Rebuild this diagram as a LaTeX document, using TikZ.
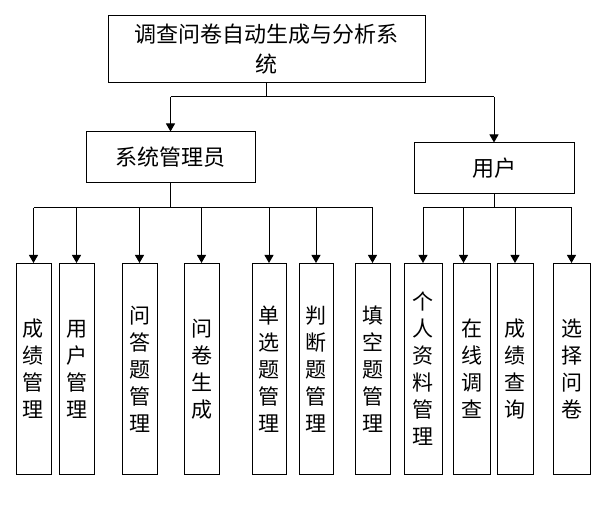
\documentclass[tikz,border=0pt]{standalone}
\usepackage{fontspec}
\newfontfamily\cjk{Noto Sans CJK SC}
\usetikzlibrary{arrows.meta}
\tikzset{
  box/.style={draw=black, line width=1pt, rectangle, inner sep=0pt, font=\cjk\fontsize{22}{30}\selectfont, align=center},
  leaf/.style={draw=black, line width=1pt, rectangle, inner sep=0pt, anchor=north, minimum height=211pt, font=\cjk\fontsize{21}{27}\selectfont, align=center},
  conn/.style={line width=1pt},
  arr/.style={line width=1pt, -{Triangle[length=8pt,width=9pt]}}
}
\begin{document}
\begin{tikzpicture}[x=1pt,y=-1pt]
\path[use as bounding box] (0,0) rectangle (616,510);
\node[box, minimum width=317pt, minimum height=67pt] (top) at (266.5,49.5) {调查问卷自动生成与分析系\\统};
\node[box, minimum width=169pt, minimum height=51pt] (admin) at (170.5,157.5) {系统管理员};
\node[box, minimum width=160pt, minimum height=51pt] (user) at (494,168.5) {用户};
\node[leaf, minimum width=35pt] (l1) at (33.5,263) {成\\绩\\管\\理};
\node[leaf, minimum width=35pt] (l2) at (76.5,263) {用\\户\\管\\理};
\node[leaf, minimum width=35pt] (l3) at (139.5,263) {问\\答\\题\\管\\理};
\node[leaf, minimum width=35pt] (l4) at (201.5,263) {问\\卷\\生\\成};
\node[leaf, minimum width=34pt] (l5) at (269,263) {单\\选\\题\\管\\理};
\node[leaf, minimum width=34pt] (l6) at (316,263) {判\\断\\题\\管\\理};
\node[leaf, minimum width=35pt] (l7) at (372.5,263) {填\\空\\题\\管\\理};
\node[leaf, minimum width=38pt] (l8) at (423,263) {个\\人\\资\\料\\管\\理};
\node[leaf, minimum width=37pt] (l9) at (471.5,263) {在\\线\\调\\查};
\node[leaf, minimum width=36pt] (l10) at (515,263) {成\\绩\\查\\询};
\node[leaf, minimum width=37pt] (l11) at (571.5,263) {选\\择\\问\\卷};
% top level
\coordinate (b1) at (266.5,97);
\draw[conn] (top.south) -- (b1);
\draw[conn] (admin.north |- b1) -- (user.north |- b1);
\draw[arr] (admin.north |- b1) -- (admin.north);
\draw[arr] (user.north |- b1) -- (user.north);
% admin
\coordinate (b2) at (170.5,208);
\draw[conn] (admin.south) -- (b2);
\draw[conn] (l1.north |- b2) -- (l7.north |- b2);
\foreach \n in {l1,l2,l3,l4,l5,l6,l7}
  \draw[arr] (\n.north |- b2) -- (\n.north);
% user
\coordinate (b3) at (494,208);
\draw[conn] (user.south) -- (b3);
\draw[conn] (l8.north |- b3) -- (l11.north |- b3);
\draw[arr] (l8.north |- b3) -- (l8.north);
\coordinate (d9) at ([xshift=-8pt]l9.north);
\draw[arr] (d9 |- b3) -- (d9);
\draw[arr] (l10.north |- b3) -- (l10.north);
\draw[arr] (l11.north |- b3) -- (l11.north);
\end{tikzpicture}
\end{document}
